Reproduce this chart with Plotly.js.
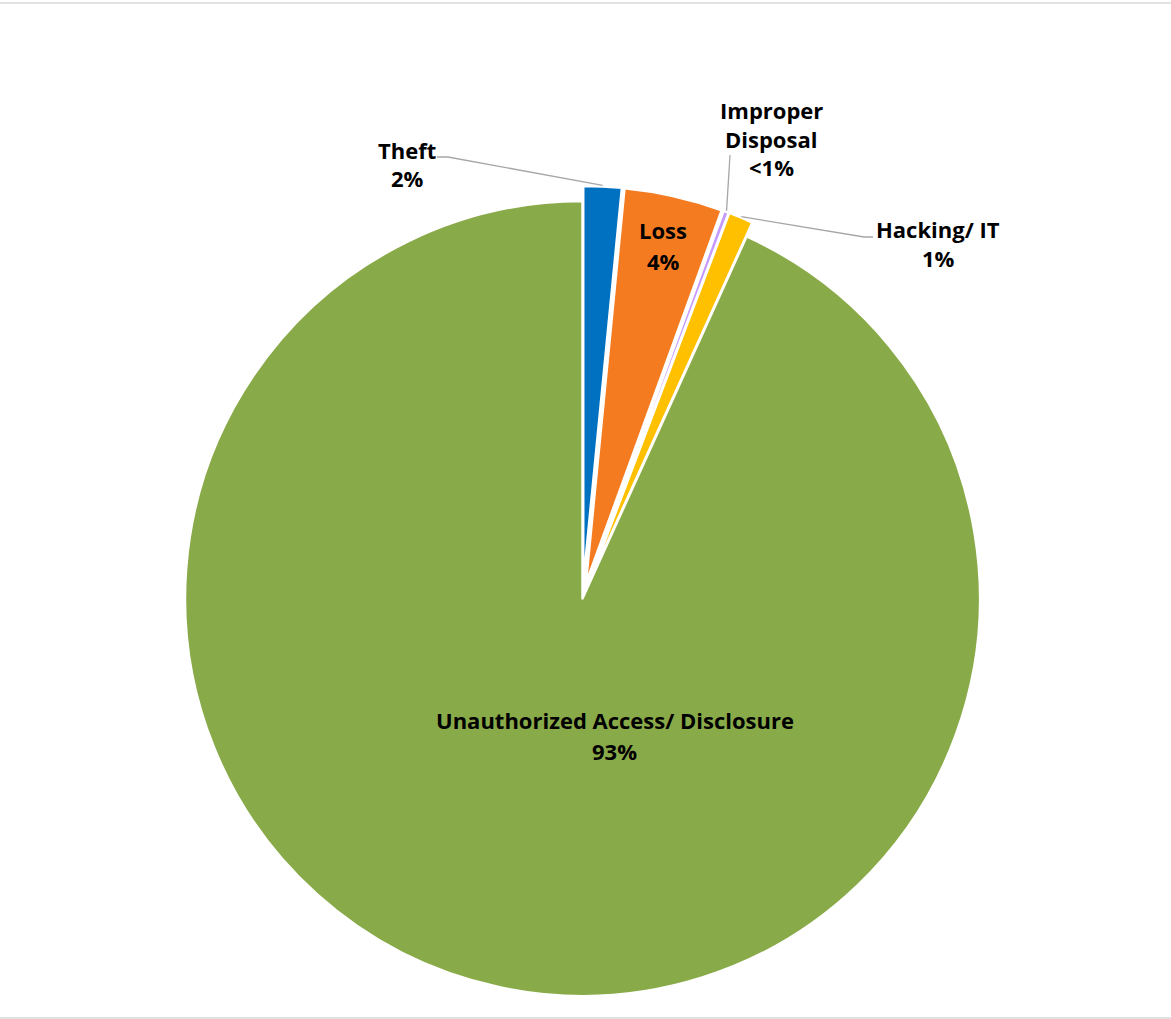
<!DOCTYPE html>
<html><head><meta charset="utf-8">
<script src="https://cdn.plot.ly/plotly-3.0.1.min.js"></script>
<style>html,body{margin:0;padding:0;background:#fff}#chart{width:1171px;height:1019px}</style>
</head><body><div id="chart"></div>
<script>
// ---- data ----
const categories = ["Theft", "Loss", "Improper Disposal", "Hacking/ IT", "Unauthorized Access/ Disclosure"];
const values = [1.55, 4.0, 0.22, 1.0, 93.2];
const labelLines = [["Theft"], ["Loss"], ["Improper", "Disposal"], ["Hacking/ IT"], ["Unauthorized Access/ Disclosure"]];

// ---- styles / layout config ----
const colors = ["#0070C0", "#F47B20", "#C59BFF", "#FFC000", "#89AA48"];
const W = 1171, H = 1019;
const PULL = 0.038;
const dom = {x: [0.04744, 0.94744], y: [0.00776, 0.81756]};
const FONT = "Open Sans";
const FSIZE = 22;
// label block centres (px) and leader-line anchor points near each label (px)
const labelLayout = [
  {x: 407, y: 164, gap: 28.5, leader: [[437, 157], [448, 157]]},
  {x: 663, y: 245.5, gap: 30.5},
  {x: 771, y: 138.5, gap: 28.5, leader: [[730, 155]]},
  {x: 938, y: 243, gap: 29, leader: [[873, 237], [864, 237]]},
  {x: 615, y: 735.5, gap: 31.5}
];

const total = values.reduce((a, b) => a + b, 0);
const pctText = values.map(v => { const p = v / total * 100; return p < 1 ? "<1%" : Math.round(p) + "%"; });
const pulls = values.map((v, i) => (i === values.length - 1 ? 0 : PULL));

// pie geometry (same rule Plotly uses)
const boxW = W * (dom.x[1] - dom.x[0]), boxH = H * (dom.y[1] - dom.y[0]);
const R = Math.min(boxW, boxH) / 2 / (1 + PULL);
const CX = W * (dom.x[0] + dom.x[1]) / 2;
const CY = H * (1 - dom.y[0]) - boxH / 2;
const px2x = p => p / W, py2y = p => 1 - p / H;

function midPoint(i) {
  let cum = 0; for (let k = 0; k < i; k++) cum += values[k];
  const a = (cum + values[i] / 2) / total * 2 * Math.PI;
  const rho = R * (1 + pulls[i]) + 1;
  return [CX + rho * Math.sin(a), CY - rho * Math.cos(a)];
}

const annotations = [];
const shapes = [];
labelLines.forEach((lines, i) => {
  const all = lines.concat([pctText[i]]);
  const L = labelLayout[i];
  all.forEach((t, j) => {
    const yy = L.y + (j - (all.length - 1) / 2) * L.gap;
    annotations.push({x: px2x(L.x), y: py2y(yy), xref: "paper", yref: "paper", text: "<b>" + t + "</b>",
      showarrow: false, xanchor: "center", yanchor: "middle",
      font: {family: FONT, size: FSIZE, color: "#000000"}});
  });
  if (L.leader) {
    const pts = L.leader.concat([midPoint(i)]);
    const path = pts.map((p, k) => (k ? "L" : "M") + px2x(p[0]) + "," + py2y(p[1])).join(" ");
    shapes.push({type: "path", xref: "paper", yref: "paper", path: path, line: {color: "#A6A6A6", width: 1.3}});
  }
});
// chart-area border lines
shapes.push({type: "line", xref: "paper", yref: "paper", x0: 0, x1: 1, y0: py2y(3), y1: py2y(3), line: {color: "#D9D9D9", width: 1.5}});
shapes.push({type: "line", xref: "paper", yref: "paper", x0: 0, x1: 1, y0: py2y(1018), y1: py2y(1018), line: {color: "#D9D9D9", width: 1.5}});

const trace = {
  type: "pie", labels: categories, values: values, sort: false, direction: "clockwise", rotation: 0,
  pull: pulls, textinfo: "none", hoverinfo: "label+percent", domain: dom,
  marker: {colors: colors, line: {color: "#FFFFFF", width: 2.5}}
};
const layout = {
  width: W, height: H, margin: {l: 0, r: 0, t: 0, b: 0}, showlegend: false,
  paper_bgcolor: "#FFFFFF", annotations: annotations, shapes: shapes
};
Plotly.newPlot("chart", [trace], layout, {displayModeBar: false, staticPlot: true});
</script></body></html>
